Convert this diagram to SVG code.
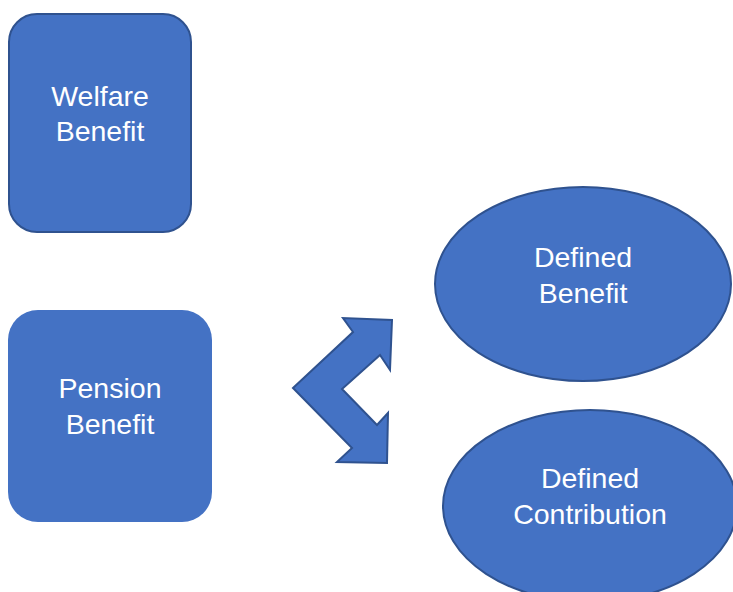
<svg xmlns="http://www.w3.org/2000/svg" width="733" height="592" viewBox="0 0 733 592">
  <style>
    .shape { fill: #4472C4; stroke: #2F528F; stroke-width: 2; }
    .plain { fill: #4472C4; stroke: none; }
    .label { fill: #FFFFFF; font-family: "Liberation Sans", Arial, sans-serif; font-size: 28.5px; text-anchor: middle; }
  </style>
  <rect width="733" height="592" fill="#FFFFFF"/>

  <g id="welfare-benefit">
    <rect class="shape" x="9" y="14" width="182" height="218" rx="28" ry="28"/>
    <text class="label" x="100" y="106">Welfare</text>
    <text class="label" x="100" y="141">Benefit</text>
  </g>

  <g id="pension-benefit">
    <rect class="plain" x="8" y="310" width="204" height="212" rx="30" ry="30"/>
    <text class="label" x="110" y="398">Pension</text>
    <text class="label" x="110" y="434">Benefit</text>
  </g>

  <g id="defined-benefit">
    <ellipse class="shape" cx="583" cy="284" rx="148" ry="97"/>
    <text class="label" x="583" y="267">Defined</text>
    <text class="label" x="583" y="303">Benefit</text>
  </g>

  <g id="defined-contribution">
    <ellipse class="shape" cx="590" cy="506" rx="147" ry="96"/>
    <text class="label" x="590" y="488">Defined</text>
    <text class="label" x="590" y="524">Contribution</text>
  </g>

  <g id="connectors">
    <polygon class="shape" points="293,388 353,332 343,318 392,320 390,370 380,355 342,389 377,425 388,413 387,463 337,462 352,448"/>
  </g>
</svg>
